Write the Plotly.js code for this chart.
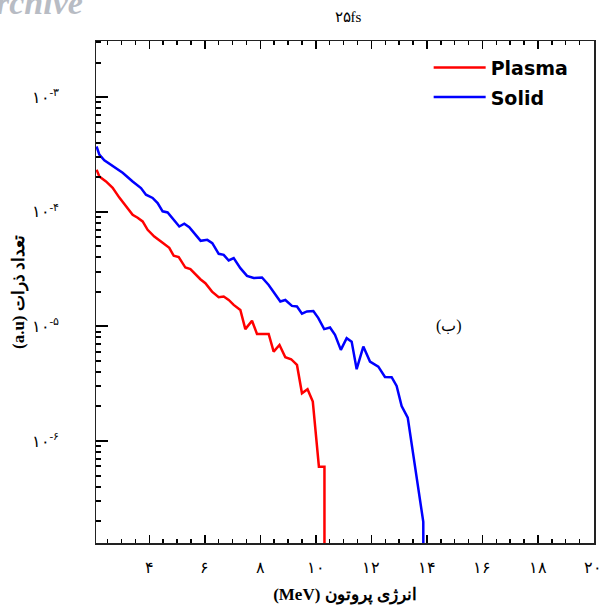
<!DOCTYPE html>
<html>
<head>
<meta charset="utf-8">
<script src="https://cdn.plot.ly/plotly-3.0.1.min.js"></script>
<style>html,body{margin:0;padding:0;background:#fff;}#chart{width:601px;height:612px;}</style>
</head>
<body>
<div id="chart"></div>
<script>
const titleText = "۲۵fs";
const seriesNames = ["Plasma", "Solid"];
const energyPlasma = [2.10,2.20,2.44,2.68,2.92,3.16,3.40,3.58,3.76,3.94,4.18,4.48,4.72,4.88,5.06,5.30,5.48,5.84,6.02,6.26,6.50,6.68,6.86,7.04,7.28,7.46,7.70,7.88,8.30,8.48,8.69,8.90,9.11,9.32,9.50,9.70,9.89,10.11,10.31,10.31];
const countPlasma = [2.33e-4,2.03e-4,1.84e-4,1.62e-4,1.33e-4,1.11e-4,9.4e-5,8.87e-5,8.23e-5,6.96e-5,6.08e-5,5.36e-5,4.85e-5,4.13e-5,4.02e-5,3.26e-5,3.16e-5,2.58e-5,2.38e-5,2.01e-5,1.80e-5,1.82e-5,1.70e-5,1.54e-5,1.39e-5,9.46e-6,1.12e-5,8.60e-6,8.60e-6,6.02e-6,6.89e-6,5.38e-6,5.17e-6,4.61e-6,2.61e-6,2.83e-6,2.21e-6,5.97e-7,5.97e-7,1e-9];
const energySolid = [2.10,2.20,2.38,2.68,3.04,3.40,3.70,3.88,4.12,4.30,4.48,4.66,4.84,5.08,5.26,5.44,5.67,5.85,6.09,6.27,6.50,6.68,6.86,7.04,7.28,7.52,7.76,8.06,8.30,8.72,8.90,9.14,9.32,9.50,9.68,9.91,10.09,10.30,10.51,10.69,10.90,11.11,11.29,11.47,11.71,11.95,12.25,12.49,12.73,12.91,13.09,13.31,13.87,13.89];
const countSolid = [3.71e-4,3.15e-4,2.81e-4,2.49e-4,2.19e-4,1.84e-4,1.61e-4,1.41e-4,1.32e-4,1.19e-4,1.01e-4,9.86e-5,8.81e-5,7.44e-5,7.86e-5,7.35e-5,6.29e-5,5.58e-5,5.69e-5,5.33e-5,4.30e-5,4.21e-5,3.76e-5,3.94e-5,3.22e-5,2.76e-5,2.64e-5,2.67e-5,2.30e-5,1.65e-5,1.70e-5,1.51e-5,1.49e-5,1.29e-5,1.35e-5,1.36e-5,1.18e-5,9.46e-6,9.77e-6,8.43e-6,6.24e-6,7.89e-6,7.36e-6,4.23e-6,6.67e-6,4.93e-6,4.46e-6,3.62e-6,3.60e-6,3.02e-6,2.02e-6,1.60e-6,1.97e-7,1e-9];
const xTickVals = [4,6,8,10,12,14,16,18,20];
const xTickText = ["۴","۶","۸","۱۰","۱۲","۱۴","۱۶","۱۸","۲۰"];
const yTickVals = [1e-3,1e-4,1e-5,1e-6];
const yTickText = ["۱۰<sup>-۳</sup>","۱۰<sup>-۴</sup>","۱۰<sup>-۵</sup>","۱۰<sup>-۶</sup>"];
const xTitle = "(MeV) انرژی پروتون";
const yTitle = "(a.u) تعداد ذرات";
const panelLabel = "(ب)";
const watermark = "rchive";

const serif = "Liberation Serif, DejaVu Serif, serif";
const traces = [
  {x: energyPlasma, y: countPlasma, name: seriesNames[0], type: "scatter", mode: "lines",
   line: {color: "#ff0000", width: 2.5}, legendgroup: "a"},
  {x: energySolid, y: countSolid, name: seriesNames[1], type: "scatter", mode: "lines",
   line: {color: "#0000ff", width: 2.5}, legendgroup: "b"}
];
const layout = {
  width: 601, height: 612,
  margin: {l: 96, r: 7, t: 41, b: 69},
  paper_bgcolor: "#fff", plot_bgcolor: "#fff",
  showlegend: true,
  title: {text: titleText, x: 0.579, xanchor: "center", y: 0.972, yanchor: "middle",
          font: {family: serif, size: 15, color: "#000"}},
  xaxis: {
    range: [2.08, 20.02], tickvals: xTickVals, ticktext: xTickText,
    ticks: "inside", ticklen: 8, tickwidth: 1.5, tickcolor: "#000",
    showline: true, linecolor: "#222", linewidth: 1.5, mirror: "ticks",
    showgrid: false, zeroline: false, ticklabelstandoff: 9, ticklabeloverflow: "allow",
    tickfont: {family: serif, size: 16, color: "#000"},
    minor: {dtick: 0.5, tick0: 0, ticks: "inside", ticklen: 4, tickcolor: "#000", showgrid: false},
    title: {text: xTitle, font: {family: serif, size: 17, color: "#000", weight: "bold"}, standoff: 13}
  },
  yaxis: {
    type: "log", range: [-6.89, -2.51], tickvals: yTickVals, ticktext: yTickText,
    ticks: "inside", ticklen: 12, tickwidth: 2, tickcolor: "#000",
    showline: true, linecolor: "#222", linewidth: 1.5, mirror: true,
    showgrid: false, zeroline: false, ticklabelstandoff: 32,
    tickfont: {family: serif, size: 16, color: "#000"},
    minor: {dtick: "D1", ticks: "inside", ticklen: 5, tickcolor: "#000", showgrid: false},
    title: {text: yTitle, font: {family: serif, size: 17, color: "#000", weight: "bold"}, standoff: 2}
  },
  legend: {x: 0.668, xanchor: "left", y: 0.985, yanchor: "top", bgcolor: "rgba(0,0,0,0)",
           font: {family: "DejaVu Sans, sans-serif", size: 19, color: "#000", weight: "bold"},
           tracegroupgap: 2, itemwidth: 52},
  annotations: [
    {x: 14.79, y: -5, xref: "x", yref: "y", text: panelLabel, showarrow: false,
     font: {family: serif, size: 16, color: "#000"}},
    {x: -0.205, y: 1.076, xref: "paper", yref: "paper", xanchor: "left", yanchor: "middle",
     text: "<b><i>" + watermark + "</i></b>", showarrow: false,
     font: {family: serif, size: 34, color: "#b8bcc4"}}
  ]
};
Plotly.newPlot("chart", traces, layout, {displayModeBar: false, staticPlot: true});
</script>
</body>
</html>
